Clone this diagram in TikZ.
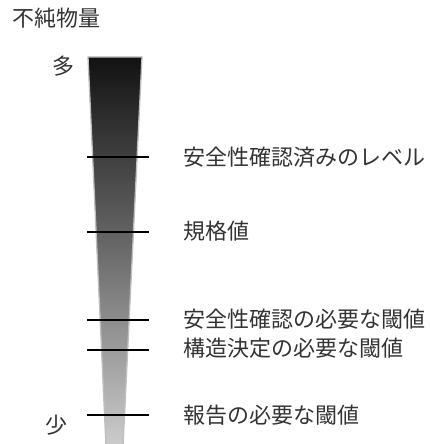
\documentclass[tikz,border=0pt]{standalone}
\usepackage{fontspec}
\setmainfont{Noto Sans CJK JP}
\begin{document}
\begin{tikzpicture}[x=1pt,y=1pt,
  lbl/.style={anchor=west,inner sep=0pt,font=\fontsize{22}{24}\selectfont,text=black!80},
  tick/.style={line width=2.6pt,black}]
\useasboundingbox (0,0) rectangle (429,-444);
% tapered bar
\shade[top color=black!93,bottom color=black!20,middle color=black!58]
  (88,-57) -- (142,-57) -- (123,-446) -- (106,-446) -- cycle;
\draw[black!25,line width=1.3pt] (106,-446) -- (88,-57) -- (142,-57) -- (123,-446);
% title and end labels
\node[lbl] (title) at (12,-18) {不純物量};
\node[lbl,anchor=center] (many) at (63,-66) {多};
\node[lbl,anchor=center] (few) at (56,-425) {少};
% ticks
\foreach \n/\y in {a/157,b/232,c/320,d/350,e/415}{
  \coordinate (\n1) at (87,-\y);
  \coordinate (\n2) at (149,-\y);
  \draw[tick] (\n1) -- (\n2);
}
\node[lbl] (la) at (183,-157) {安全性確認済みのレベル};
\node[lbl] (lb) at (183,-231) {規格値};
\node[lbl] (lc) at (183,-319) {安全性確認の必要な閾値};
\node[lbl] (ld) at (183,-348) {構造決定の必要な閾値};
\node[lbl] (le) at (183,-415) {報告の必要な閾値};
\end{tikzpicture}
\end{document}
